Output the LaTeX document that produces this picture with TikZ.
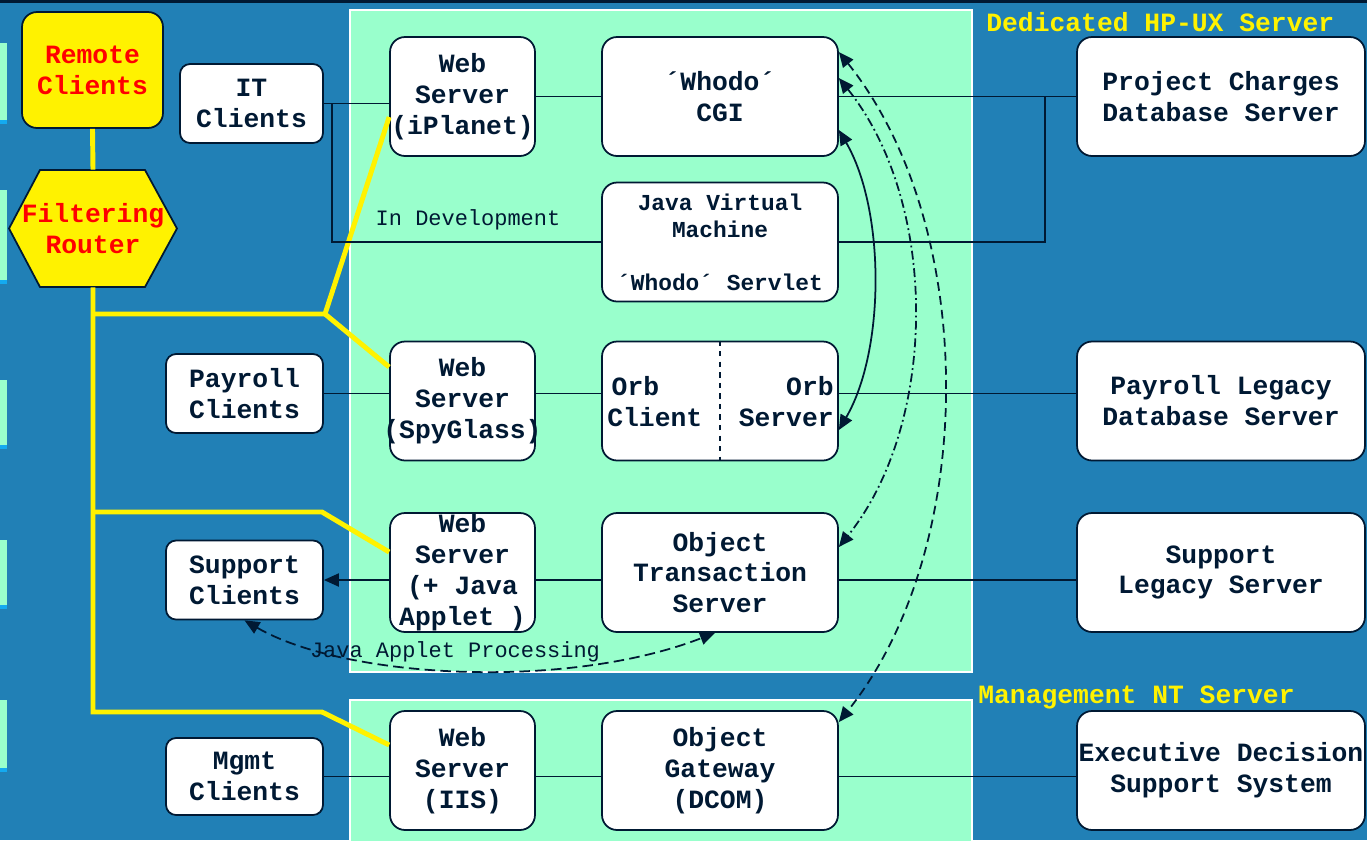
\documentclass[tikz,border=0pt]{standalone}
\usepackage{fontspec}
\setmonofont{Liberation Mono}
\usetikzlibrary{arrows.meta}

\definecolor{bgblue}{RGB}{33,128,182}
\definecolor{mint}{RGB}{153,255,204}
\definecolor{navy}{RGB}{0,25,51}
\definecolor{tipblue}{RGB}{20,170,240}

\begin{document}
\begin{tikzpicture}[x=0.02cm, y=-0.02cm, >={Triangle[length=0.3cm,width=0.26cm]},
		box/.style={draw=navy, line width=1pt, fill=white, rounded corners=0.3cm, inner sep=0pt,
			align=center, text=navy, font=\ttfamily\bfseries\fontsize{15}{17.6}\selectfont},
		clientbox/.style={box, rounded corners=0.2cm, minimum width=3.14cm, minimum height=1.58cm},
		webbox/.style={box, minimum width=2.9cm, minimum height=2.38cm},
		midbox/.style={box, minimum width=4.72cm, minimum height=2.38cm},
		dbbox/.style={box, minimum width=5.76cm, minimum height=2.38cm},
		boxtext/.style={inner sep=0pt, text=navy, font=\ttfamily\bfseries\fontsize{15}{17.6}\selectfont},
		wire/.style={draw=navy, line width=1.1pt},
		yline/.style={draw=yellow, line width=2.8pt},
		panel/.style={fill=mint, draw=white, line width=1pt},
		tag/.style={inner sep=0pt, text=yellow, font=\ttfamily\bfseries\fontsize{15}{17.6}\selectfont},
		note/.style={inner sep=0pt, text=navy, font=\ttfamily\fontsize{12.5}{15}\selectfont},
		link/.style={draw=navy, line width=1pt, <->}]

	\useasboundingbox (0,0) rectangle (1367,840);
	\clip (0,0) rectangle (1367,840);
	\fill[bgblue] (0,0) rectangle (1367,840);
	\fill[navy] (0,0) rectangle (1367,3);

	% strips at the left edge
	\foreach \ya/\yb in {43/120, 190/280, 380/445, 540/605, 700/768}{
		\fill[mint] (0,\ya) rectangle (7,\yb);
		\fill[tipblue] (0,\yb) rectangle (7,{\yb+4});
	}

	% server panels
	\draw[panel] (350,10) rectangle (972,672);
	\draw[panel] (350,700) rectangle (972,850);
	\node[tag, anchor=west] (hpux) at (986,22) {Dedicated HP-UX Server};
	\node[tag, anchor=west] (ntsrv) at (978,697) {Management NT Server};

	% remote side
	\node[box, fill=yellow, text=red, minimum width=2.82cm, minimum height=2.32cm] (remote) at (92.5,70) {Remote\\Clients};
	\draw[draw=navy, line width=1pt, fill=yellow] (9,228.5) -- (40,170) -- (145,170) -- (177,228.5) -- (145,287) -- (40,287) -- cycle;
	\node[boxtext, text=red, align=center, minimum width=3.36cm, minimum height=2.34cm] (router) at (93,228.5) {Filtering\\Router};

	% clients
	\node[clientbox, minimum width=2.86cm] (itclients) at (251.5,103.5) {IT\\Clients};
	\node[clientbox] (payclients) at (244.5,393.5) {Payroll\\Clients};
	\node[clientbox] (supclients) at (244.5,580) {Support\\Clients};
	\node[clientbox, minimum height=1.54cm] (mgmtclients) at (244.5,776.5) {Mgmt\\Clients};

	% web servers
	\node[webbox] (webip) at (462.5,96.5) {Web\\Server\\(iPlanet)};
	\node[webbox] (webspy) at (462.5,401) {Web\\Server\\\makebox[0pt]{(SpyGlass)}};
	\node[webbox] (webjava) at (462.5,572.5) {Web\\Server\\(+ Java\\Applet )};
	\node[webbox] (webiis) at (462.5,770.5) {Web\\Server\\(IIS)};

	% middle column
	\node[midbox] (cgi) at (720,96.5) {´Whodo´\\CGI};
	\node[midbox, font=\ttfamily\bfseries\fontsize{13}{15.3}\selectfont] (jvm) at (720,242) {Java Virtual\\Machine\\[0.52cm]´Whodo´ Servlet};
	\node[midbox] (orb) at (720,401) {};
	\draw[navy, line width=0.8pt, dashed] (orb.north) -- (orb.south);
	\node[boxtext, anchor=west, align=left] (orbclient) at (607,402) {\,Orb\\Client};
	\node[boxtext, anchor=east, align=right] (orbserver) at (834,402) {Orb\\Server};
	\node[midbox] (ots) at (720,572.5) {Object\\Transaction\\Server};
	\node[midbox] (gateway) at (720,770.5) {Object\\Gateway\\(DCOM)};

	% back ends
	\node[dbbox] (pcdb) at (1221,96.5) {Project Charges\\Database Server};
	\node[dbbox] (paydb) at (1221,401) {Payroll Legacy\\Database Server};
	\node[dbbox] (suplegacy) at (1221,572.5) {Support\\Legacy Server};
	\node[dbbox] (exec) at (1221,770.5) {Executive Decision\\Support System};

	% yellow network
	\coordinate (fork) at (325,314);
	\draw[yline] (remote.south) -- (router.north);
	\draw[yline] (router.south) |- (322,712) -- ([yshift=0.51cm]webiis.west);
	\draw[yline] (router.south |- fork) -- (fork) -- ([yshift=-0.41cm]webip.west);
	\draw[yline] (fork) -- ([yshift=0.68cm]webspy.west);
	\draw[yline] (router.south |- 0,512) -- (322,512) -- ([yshift=0.41cm]webjava.west);

	% wires
	\coordinate (itsplit) at (332,103.5);
	\coordinate (dbsplit) at (1045,96.5);
	\draw[wire] (itclients.east) -- (itclients.east -| webip.west);
	\draw[wire] (itsplit) |- (jvm.west);
	\node[note] (indev) at (468,220) {In Development};
	\draw[wire] (webip.east) -- (cgi.west);
	\draw[wire] (cgi.east) -- (pcdb.west);
	\draw[wire] (jvm.east) -| (dbsplit);

	\draw[wire] (payclients.east) -- (payclients.east -| webspy.west);
	\draw[wire] (webspy.east |- payclients.east) -- (payclients.east -| orb.west);
	\draw[wire] (orb.east |- payclients.east) -- (payclients.east -| paydb.west);

	\draw[wire, ->] (supclients.east -| webjava.west) -- (supclients.east);
	\draw[wire] (webjava.east |- supclients.east) -- (supclients.east -| ots.west);
	\draw[wire] (ots.east |- supclients.east) -- (supclients.east -| suplegacy.west);

	\draw[wire] (mgmtclients.east) -- (mgmtclients.east -| webiis.west);
	\draw[wire] (webiis.east |- mgmtclients.east) -- (mgmtclients.east -| gateway.west);
	\draw[wire] (gateway.east |- mgmtclients.east) -- (mgmtclients.east -| exec.west);

	% object calls
	\draw[link] ([yshift=-0.67cm]cgi.east) .. controls +(0.93cm,-1.6cm) and +(0.93cm,1.6cm) .. ([yshift=-0.58cm]orb.east);
	\draw[link, dash pattern=on 5pt off 2pt on 1pt off 2pt] ([yshift=0.37cm]cgi.east) .. controls +(2cm,-2.5cm) and +(2cm,2.5cm) .. ([yshift=0.51cm]ots.east);
	\draw[link, dash pattern=on 5pt off 3pt] ([yshift=0.89cm]cgi.east) .. controls +(2.8cm,-3.5cm) and +(2.8cm,3.5cm) .. ([yshift=0.97cm]gateway.east);
	\draw[link, dash pattern=on 6pt off 3pt] (supclients.south) .. controls +(2cm,-1.16cm) and +(-3cm,-1.16cm) .. ([xshift=-0.1cm]ots.south);
	\node[note] (applet) at (455,652) {Java Applet Processing};
\end{tikzpicture}
\end{document}
